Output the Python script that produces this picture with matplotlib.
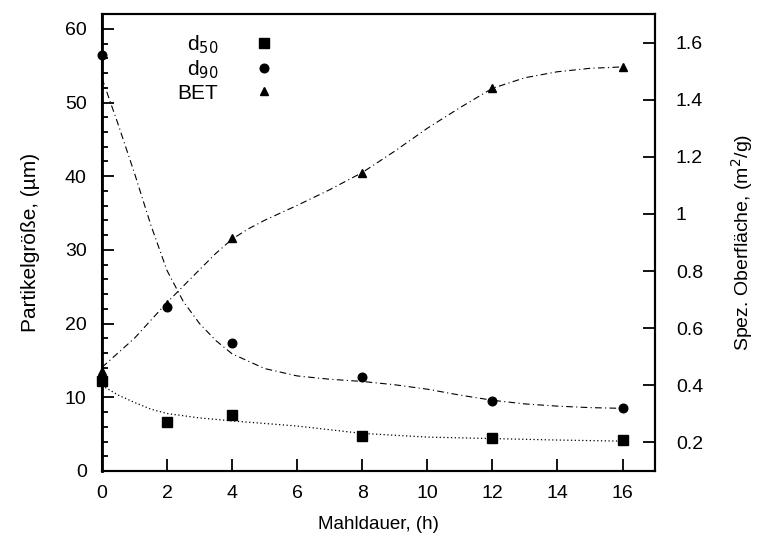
import matplotlib
matplotlib.use("Agg")
import matplotlib.pyplot as plt
from matplotlib.lines import Line2D
from matplotlib.ticker import MultipleLocator

plt.rcParams['font.family'] = ['Liberation Sans', 'DejaVu Sans']

# Messpunkte
mahldauer = [0, 2, 4, 8, 12, 16]
d50 = [12.2, 6.6, 7.6, 4.8, 4.5, 4.2]
d90 = [56.5, 22.2, 17.3, 12.8, 9.5, 8.5]
bet = [0.45, 0.685, 0.915, 1.145, 1.44, 1.515]

# Ausgleichskurven
x_d50_fit = [0, 0.5, 1, 1.5, 2, 3, 4, 5, 6, 7, 8, 10, 12, 14, 16]
d50_fit = [11.6, 10.3, 9.3, 8.4, 7.8, 7.2, 6.8, 6.45, 6.1, 5.6, 5.1, 4.6, 4.4, 4.2, 4.05]

x_d90_fit = [0, 0.5, 1, 1.5, 2, 2.5, 3, 3.5, 4, 5, 6, 7, 8, 9, 10, 11, 12, 13, 14, 15, 16]
d90_fit = [53.3, 47.0, 40.4, 33.4, 27.2, 23.0, 20.0, 17.7, 15.9, 13.9, 12.9, 12.45, 12.15,
           11.7, 11.1, 10.3, 9.6, 9.1, 8.8, 8.6, 8.5]

x_bet_fit = [0, 1, 2, 3, 3.5, 4, 4.5, 5, 6, 7, 8, 9, 10, 11, 12, 13, 14, 15, 16]
bet_fit = [0.463, 0.565, 0.69, 0.805, 0.862, 0.912, 0.948, 0.978, 1.03, 1.085, 1.145, 1.22,
           1.30, 1.372, 1.44, 1.477, 1.498, 1.51, 1.515]

fig = plt.figure(figsize=(7.69, 5.41), dpi=100)
ax = fig.add_axes([0.1326, 0.1294, 0.7192, 0.8446])
ax2 = ax.twinx()

dashdot = (0, (6, 3, 1, 3))

ax.plot(x_d50_fit, d50_fit, color='black', lw=0.9, ls=(0, (1, 2)))
ax.plot(x_d90_fit, d90_fit, color='black', lw=0.8, ls=dashdot)
ax2.plot(x_bet_fit, bet_fit, color='black', lw=0.8, ls=dashdot)

ax.plot(mahldauer, d50, ls='none', marker='s', ms=7.5, color='black', clip_on=False, zorder=5)
ax.plot(mahldauer, d90, ls='none', marker='o', ms=6.2, color='black', clip_on=False, zorder=5)
ax2.plot(mahldauer, bet, ls='none', marker='^', ms=5.5, color='black', clip_on=False, zorder=5)

ax.set_xlim(0, 17)
ax.set_ylim(0, 62)
ax2.set_ylim(0.1, 1.7)

ax.xaxis.set_major_locator(MultipleLocator(2))
ax.yaxis.set_major_locator(MultipleLocator(10))
ax.yaxis.set_minor_locator(MultipleLocator(2))
ax2.set_yticks([0.2, 0.4, 0.6, 0.8, 1.0, 1.2, 1.4, 1.6])
ax2.set_yticklabels(['0.2', '0.4', '0.6', '0.8', '1', '1.2', '1.4', '1.6'])

ax.tick_params(axis='x', which='major', direction='in', length=8.5, width=1.3, pad=10, labelsize=14)
ax.tick_params(axis='y', which='major', direction='in', length=8.5, width=1.3, pad=11, labelsize=14)
ax.tick_params(axis='y', which='minor', direction='in', length=4.5, width=1.3)
ax2.tick_params(axis='y', which='major', direction='in', length=8.5, width=1.3, pad=15, labelsize=14)

for a in (ax, ax2):
    for s in a.spines.values():
        s.set_linewidth(1.5)
ax.spines['left'].set_linewidth(2)

ax.set_xlabel('Mahldauer, (h)', fontsize=13.5, labelpad=10)
ax.set_ylabel('Partikelgröße, (µm)', fontsize=15, labelpad=18)
ax2.set_ylabel('Spez. Oberfläche, (m$^2$/g)', fontsize=14, labelpad=19)

handles = [Line2D([], [], ls='none', marker='s', ms=7.5, color='black'),
           Line2D([], [], ls='none', marker='o', ms=6.2, color='black'),
           Line2D([], [], ls='none', marker='^', ms=5.5, color='black')]
labels = ['d$_{50}$', 'd$_{90}$', 'BET']
ax.legend(handles, labels, loc='upper right', bbox_to_anchor=(0.357, 0.938),
          bbox_transform=fig.transFigure, frameon=False, markerfirst=False,
          fontsize=15, handletextpad=1.7, labelspacing=0.12, borderpad=0,
          borderaxespad=0, handlelength=1)

fig.savefig('out.png', dpi=100)
